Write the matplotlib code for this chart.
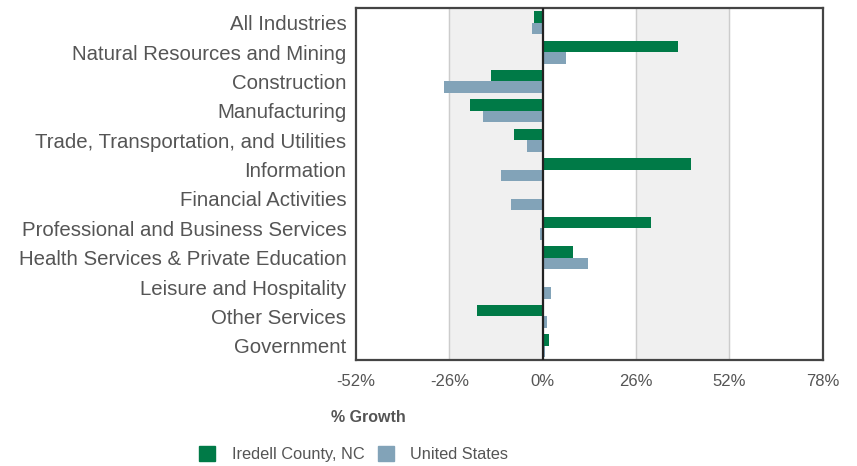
import numpy as np
import matplotlib.pyplot as plt
from matplotlib.patches import Patch

plt.rcParams['font.family'] = ['Liberation Sans', 'DejaVu Sans']

industries = ['All Industries', 'Natural Resources and Mining', 'Construction',
              'Manufacturing', 'Trade, Transportation, and Utilities', 'Information',
              'Financial Activities', 'Professional and Business Services',
              'Health Services & Private Education', 'Leisure and Hospitality',
              'Other Services', 'Government']
iredell = [-2.5, 37.6, -14.4, -20.2, -8.1, 41.3, 0.5, 30.2, 8.5, 0.0, -18.4, 1.9]
usa = [-2.9, 6.6, -27.6, -16.7, -4.4, -11.6, -8.8, -0.7, 12.7, 2.3, 1.2, 0.8]
xticks = [-52, -26, 0, 26, 52, 78]

green = '#007a47'
blue = '#82a3b8'
text_col = '#555555'

fig = plt.figure(figsize=(8.57, 4.66), dpi=100)
ax = fig.add_axes([0.4154, 0.2264, 0.5444, 0.7564])

y = np.arange(len(industries))
h = 0.39
ax.barh(y - h / 2, iredell, height=h, color=green, zorder=3)
ax.barh(y + h / 2, usa, height=h, color=blue, zorder=3)

# alternating bands and grid lines
ax.axvspan(-26, 0, color='#f0f0f0', zorder=0)
ax.axvspan(26, 52, color='#f0f0f0', zorder=0)
for v in [-26, 26, 52]:
    ax.axvline(v, color='#cccccc', lw=1, zorder=1)
ax.axvline(0, color='#222222', lw=1.6, zorder=4)

ax.set_xlim(-52, 78)
ax.set_ylim(len(industries) - 0.5, -0.5)
ax.set_yticks(y)
ax.set_yticklabels(industries)
ax.set_xticks(xticks)
ax.set_xticklabels([f'{t}%' for t in xticks])
ax.tick_params(length=0, colors=text_col)
ax.tick_params(axis='x', pad=10, labelsize=12)
ax.tick_params(axis='y', pad=7, labelsize=14.7)
for s in ax.spines.values():
    s.set_color('#444444')
    s.set_linewidth(1.6)

fig.text(0.43, 0.105, '% Growth', ha='center', va='center', fontsize=11.5,
         fontweight='bold', color=text_col)

handles = [Patch(color=green), Patch(color=blue)]
fig.legend(handles, ['Iredell County, NC', 'United States'], loc='center left',
           bbox_to_anchor=(0.215, 0.025), ncol=2, frameon=False, fontsize=11.8,
           handlelength=1.0, handleheight=1.0, handletextpad=1.0, columnspacing=0.8,
           labelcolor=text_col)

fig.savefig('out.png', dpi=100)
